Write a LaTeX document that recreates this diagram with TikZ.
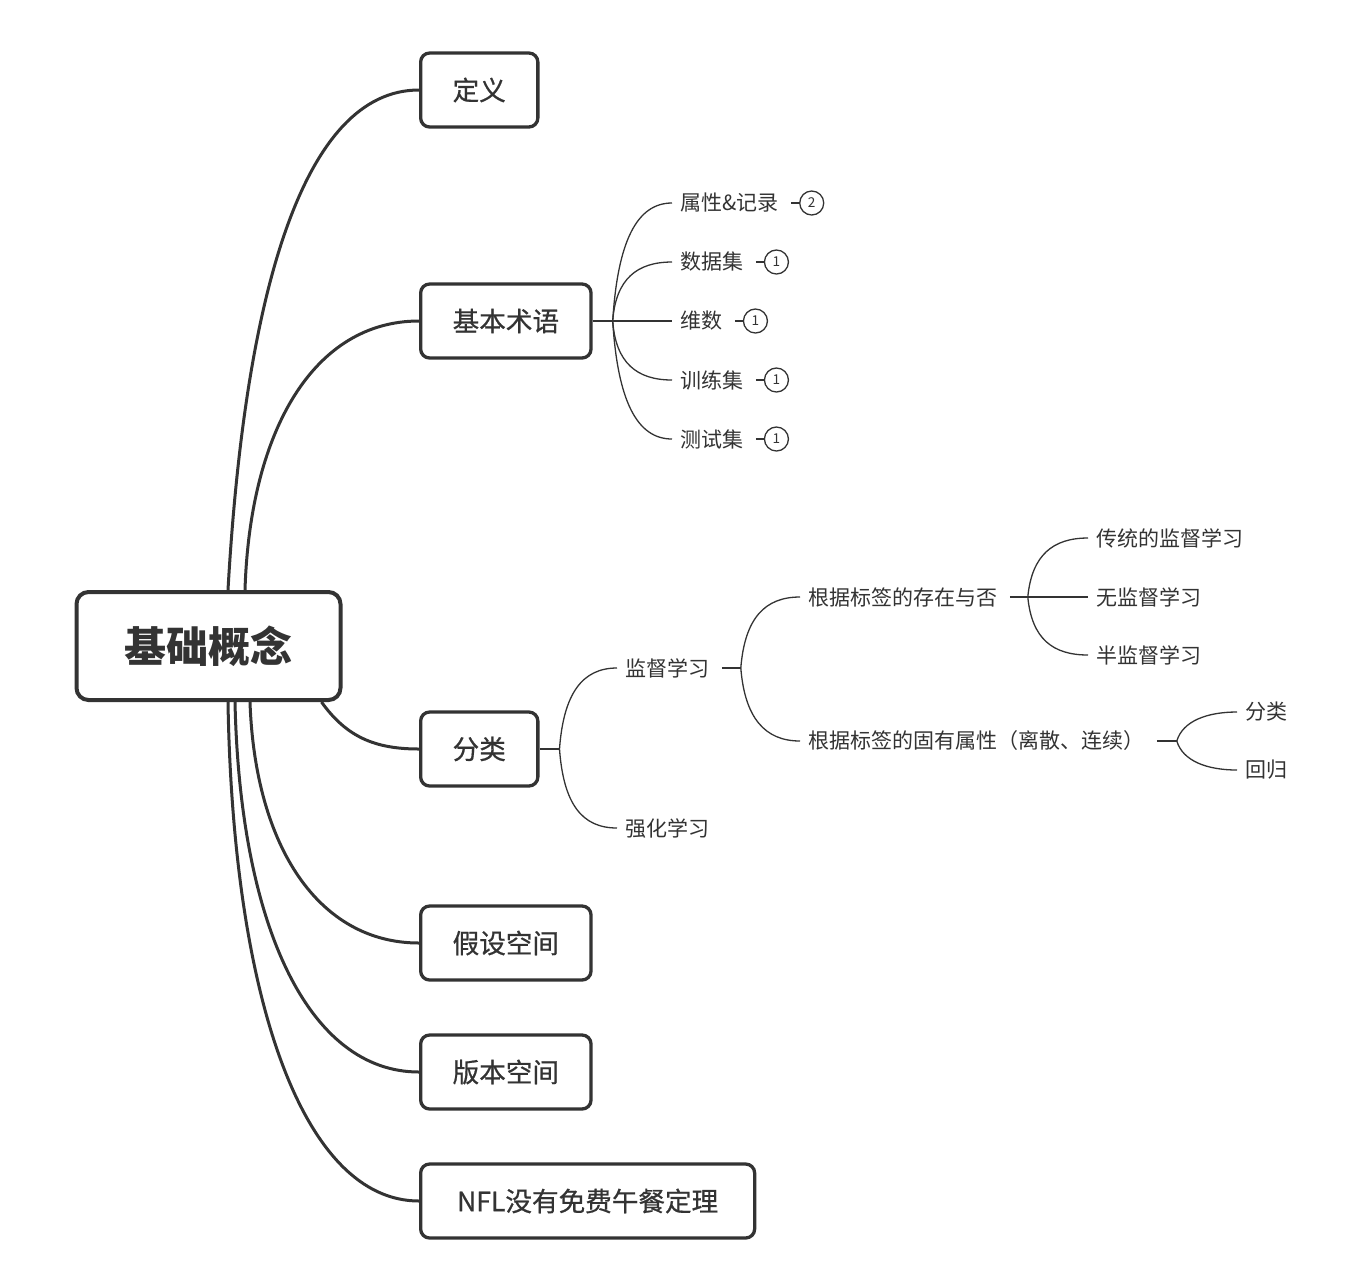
\documentclass[tikz,border=0pt]{standalone}
\usepackage{fontspec}
\setmainfont{Noto Sans CJK SC}
\newfontfamily\topicfont[FakeBold=0.7]{Noto Sans CJK SC}
\usetikzlibrary{positioning}
\definecolor{ink}{HTML}{333333}
\tikzset{
    topic/.style={draw=ink, line width=1.65pt, rounded corners=4.5pt, fill=white, text=ink,
        font=\topicfont\fontsize{13.3pt}{16pt}\selectfont, inner xsep=16pt, minimum height=37pt},
    central/.style={topic, line width=2pt, rounded corners=6pt,
        font=\bfseries\fontsize{21pt}{25pt}\selectfont, inner xsep=24pt, minimum height=54pt},
    leaf/.style={anchor=west, text=ink, font=\fontsize{10.5pt}{12pt}\selectfont, inner xsep=4pt, inner ysep=2pt},
    badge/.style={circle, draw=ink, line width=0.65pt, inner sep=0pt, minimum size=12pt, text=ink,
        font=\fontsize{6.8pt}{7pt}\selectfont},
    trunk/.style={draw=ink, line width=1.5pt},
    twig/.style={draw=ink, line width=0.65pt},
}
\begin{document}
\begin{tikzpicture}[x=0.5pt,y=-0.5pt]
    \useasboundingbox (0,0) rectangle (1346,1282);

    % main topics
    \node (root) [central] at (208.5,646) {基础概念};
    \node (def) [topic, anchor=west] at (419,90) {定义};
    \node (term) [topic, anchor=west] at (419,321) {基本术语};
    \node (cls) [topic, anchor=west] at (419,749) {分类};
    \node (hyp) [topic, anchor=west] at (419,943) {假设空间};
    \node (ver) [topic, anchor=west] at (419,1072) {版本空间};
    \node (nfl) [topic, anchor=west, minimum width=167pt] at (419,1201) {NFL没有免费午餐定理};

    \draw [trunk] ([xshift=9.75pt]root.north) .. controls +(17,-300) and +(-115,0) .. (def.west);
    \draw [trunk] ([xshift=18.25pt]root.north) .. controls +(5,-160) and +(-105,0) .. (term.west);
    \draw [trunk] ([xshift=-10.5pt]root.south east) .. controls +(25,35) and +(-44,0) .. (cls.west);
    \draw [trunk] ([xshift=20.75pt]root.south) .. controls +(5,145) and +(-100,0) .. (hyp.west);
    \draw [trunk] ([xshift=13.25pt]root.south) .. controls +(5,225) and +(-110,0) .. (ver.west);
    \draw [trunk] ([xshift=9.75pt]root.south) .. controls +(5,300) and +(-115,0) .. (nfl.west);

    % terms
    \node (attr) [leaf] at (672,203) {属性\&记录};
    \node (data) [leaf] at (672,262) {数据集};
    \node (dim) [leaf] at (672,321) {维数};
    \node (train) [leaf] at (672,380) {训练集};
    \node (test) [leaf] at (672,439) {测试集};
    \coordinate (termfork) at ([xshift=10pt]term.east);
    \draw [twig] (term.east) -- (termfork);
    \draw [twig] (termfork) .. controls +(5,-80) and +(-35,0) .. (attr.west);
    \draw [twig] (termfork) .. controls +(3,-42) and +(-35,0) .. (data.west);
    \draw [twig] (termfork) -- (dim.west);
    \draw [twig] (termfork) .. controls +(3,42) and +(-35,0) .. (train.west);
    \draw [twig] (termfork) .. controls +(5,80) and +(-35,0) .. (test.west);

    \node (attrnum) [badge, right=6pt of attr] {2};
    \node (datanum) [badge, right=6pt of data] {1};
    \node (dimnum) [badge, right=6pt of dim] {1};
    \node (trainnum) [badge, right=6pt of train] {1};
    \node (testnum) [badge, right=6pt of test] {1};
    \path [twig, shorten <=2pt]
        (attr.east) edge (attrnum)
        (data.east) edge (datanum)
        (dim.east) edge (dimnum)
        (train.east) edge (trainnum)
        (test.east) edge (testnum)
    ;

    % classification
    \node (sup) [leaf] at (617,668) {监督学习};
    \node (rl) [leaf] at (617,828) {强化学习};
    \coordinate (clsfork) at ([xshift=10pt]cls.east);
    \draw [twig] (cls.east) -- (clsfork);
    \draw [twig] (clsfork) .. controls +(4,-55) and +(-35,0) .. (sup.west);
    \draw [twig] (clsfork) .. controls +(4,55) and +(-35,0) .. (rl.west);

    \node (byexist) [leaf] at (800,597) {根据标签的存在与否};
    \node (byattr) [leaf] at (800,741) {根据标签的固有属性（离散、连续）};
    \coordinate (supfork) at ([xshift=11.5pt]sup.east);
    \draw [twig, shorten <=2pt] (sup.east) -- (supfork);
    \draw [twig] (supfork) .. controls +(4,-50) and +(-35,0) .. (byexist.west);
    \draw [twig] (supfork) .. controls +(4,50) and +(-35,0) .. (byattr.west);

    \node (trad) [leaf] at (1088,538) {传统的监督学习};
    \node (unsup) [leaf] at (1088,597) {无监督学习};
    \node (semi) [leaf] at (1088,655) {半监督学习};
    \coordinate (existfork) at ([xshift=11pt]byexist.east);
    \draw [twig, shorten <=2pt] (byexist.east) -- (existfork);
    \draw [twig] (existfork) .. controls +(4,-42) and +(-35,0) .. (trad.west);
    \draw [twig] (existfork) -- (unsup.west);
    \draw [twig] (existfork) .. controls +(4,42) and +(-35,0) .. (semi.west);

    \node (sort) [leaf] at (1237,712) {分类};
    \node (regr) [leaf] at (1237,770) {回归};
    \coordinate (attrfork) at ([xshift=12pt]byattr.east);
    \draw [twig, shorten <=2pt] (byattr.east) -- (attrfork);
    \draw [twig] (attrfork) .. controls +(6,-20) and +(-30,0) .. (sort.west);
    \draw [twig] (attrfork) .. controls +(6,20) and +(-30,0) .. (regr.west);
\end{tikzpicture}
\end{document}
